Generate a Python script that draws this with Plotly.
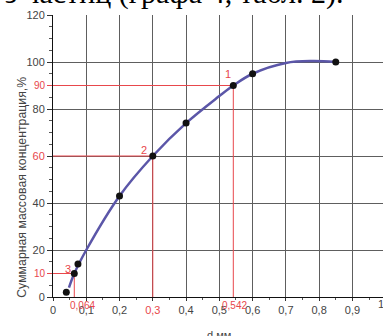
import plotly.graph_objects as go

# measured points
pts_x = [0.04, 0.064, 0.075, 0.2, 0.3, 0.4, 0.542, 0.6, 0.85]
pts_y = [2, 10, 14, 43, 60, 74, 90, 95, 100]

# fitted curve
curve_x = [0.048, 0.064, 0.1, 0.2, 0.3, 0.4, 0.5, 0.542, 0.6, 0.7, 0.78, 0.85]
curve_y = [4, 10, 20, 43, 60, 74, 85.5, 90, 95, 99.6, 100.4, 100]

# reference readings
ref_x = [0.542, 0.3, 0.064]
ref_y = [90, 60, 10]
ref_num = ["1", "2", "3"]
ref_xtxt = ["0,542", "0,3", "0,064"]

x_ticks = [0, 0.1, 0.2, 0.3, 0.4, 0.5, 0.6, 0.7, 0.8, 0.9, 1.0]
x_labels = ["0", "0,1", "0,2", "0,3", "0,4", "0,5", "0,6", "0,7", "0,8", "0,9", "1"]
y_ticks = [0, 20, 40, 60, 80, 100, 120]
y_labels = ["0", "20", "40", "60", "80", "100", "120"]

RED = "#e8474c"
GRAY = "#444444"
XMAX = 0.992

fig = go.Figure()

# red guide lines
for rx, ry in zip(ref_x, ref_y):
    fig.add_trace(go.Scatter(x=[0, rx, rx], y=[ry, ry, 0], mode="lines",
                             line=dict(color=RED, width=1), hoverinfo="skip",
                             showlegend=False, cliponaxis=False))

fig.add_trace(go.Scatter(x=curve_x, y=curve_y, mode="lines",
                         line=dict(color="#5b56a8", width=2.5, shape="spline", smoothing=1.0),
                         hoverinfo="skip", showlegend=False))
fig.add_trace(go.Scatter(x=pts_x, y=pts_y, mode="markers",
                         marker=dict(color="#111111", size=7),
                         hoverinfo="skip", showlegend=False, cliponaxis=False))

# red-coloured tick texts
xt_text = []
for v, t in zip(x_ticks, x_labels):
    if v in ref_x:
        xt_text.append(f"<span style='color:{RED}'>{t}</span>")
    else:
        xt_text.append(t)
yt_text = []
for v, t in zip(y_ticks, y_labels):
    if v in ref_y:
        yt_text.append(f"<span style='color:{RED}'>{t}</span>")
    else:
        yt_text.append(t)

fig.update_layout(
    width=383, height=336,
    margin=dict(l=53, r=0, t=15, b=39, autoexpand=False),
    paper_bgcolor="white", plot_bgcolor="white",
    font=dict(family="Liberation Sans, Arial, sans-serif", size=11, color=GRAY),
    xaxis=dict(range=[0, XMAX], tickmode="array", automargin=False,
               tickvals=x_ticks[:-1], ticktext=xt_text[:-1],
               showgrid=True, gridcolor="#5e5e5e", gridwidth=1,
               showline=True, linecolor="#111", linewidth=1,
               ticks="outside", ticklen=3, tickcolor="#333",
               zeroline=False,
               minor=dict(tickmode="linear", tick0=0, dtick=0.05, ticks="outside",
                          ticklen=2, tickcolor="#555", showgrid=False)),
    yaxis=dict(range=[0, 120], tickmode="array", automargin=False,
               tickvals=y_ticks, ticktext=yt_text,
               showgrid=True, gridcolor="#5e5e5e", gridwidth=1,
               showline=True, linecolor="#111", linewidth=1,
               ticks="outside", ticklen=5, tickcolor="#333",
               zeroline=False,
               minor=dict(tickmode="linear", tick0=0, dtick=5, ticks="outside",
                          ticklen=3, tickcolor="#555", showgrid=False)),
    yaxis2=dict(range=[0, 120], overlaying="y", side="left", tickmode="array",
                automargin=False,
                tickvals=[v for v in ref_y if v not in y_ticks],
                ticktext=[str(v) for v in ref_y if v not in y_ticks],
                tickfont=dict(color=RED, size=10),
                ticks="outside", ticklen=5, tickcolor=RED,
                showgrid=False, showline=False, zeroline=False),
)
# dummy trace to activate yaxis2
fig.add_trace(go.Scatter(x=[0], y=[0], yaxis="y2", mode="markers",
                         marker=dict(opacity=0), hoverinfo="skip", showlegend=False))

ann = []
# red point numbers
offsets = [(-5, -12), (-9, -6), (-6, -5)]
for rx, ry, n, (dx, dy) in zip(ref_x, ref_y, ref_num, offsets):
    ann.append(dict(x=rx, y=ry, xref="x", yref="y", text=n, showarrow=False,
                    xshift=dx, yshift=-dy, font=dict(color=RED, size=11)))
# red x readings below axis (not the gridline one)
xshifts = [1, 0, 8]
for rx, t, dx in zip(ref_x, ref_xtxt, xshifts):
    if rx in x_ticks:
        continue
    ann.append(dict(x=rx, y=0, xref="x", yref="y", text=t, showarrow=False,
                    xshift=dx, yshift=-8, font=dict(color=RED, size=10)))
# cut-off last tick label
ann.append(dict(x=x_ticks[-1] / XMAX, y=-0.054, xref="paper", yref="paper",
                text=x_labels[-1], showarrow=False, font=dict(size=11, color=GRAY)))
# axis titles
ann.append(dict(x=-0.122, y=0.39, xref="paper", yref="paper", textangle=-90,
                text="Суммарная массовая концентрация,%", showarrow=False,
                font=dict(size=12.3, color=GRAY)))
ann.append(dict(x=0.503, y=-0.162, xref="paper", yref="paper",
                text="d мм", showarrow=False, font=dict(size=11, color=GRAY)))
# cut-off page text on top
ann.append(dict(x=(345 - 53) / 330, y=1.012, xref="paper", yref="paper",
                xanchor="right", yanchor="bottom",
                text="з частиц (графа 4, табл. 2).", showarrow=False,
                font=dict(family="Liberation Serif, Times New Roman, serif", size=30, color="#000")))
fig.update_layout(annotations=ann)

fig.write_html("out.html", config={"displayModeBar": False},
               post_script="document.body.style.margin='0';document.body.style.overflow='hidden';")
